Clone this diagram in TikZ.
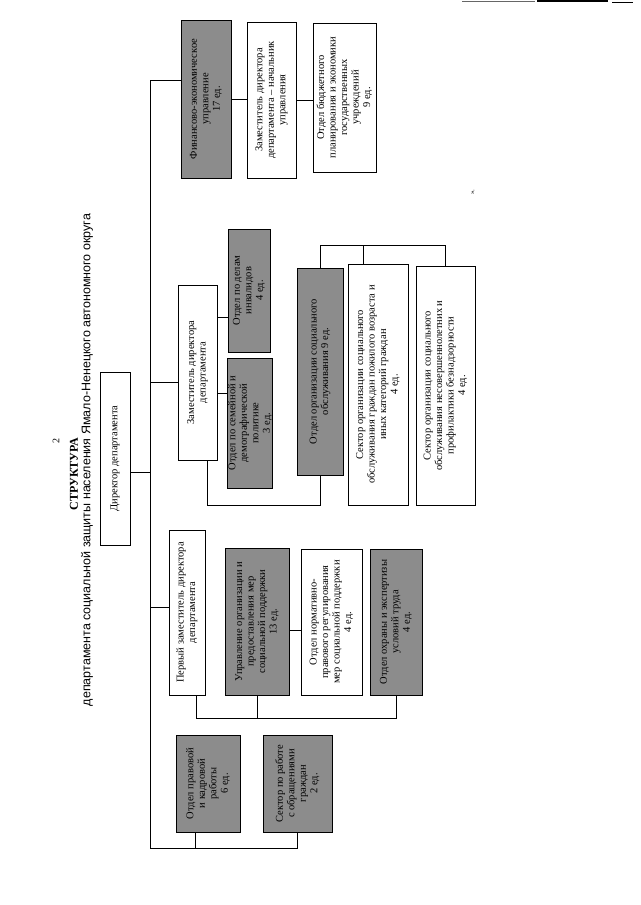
\documentclass[tikz,border=0pt]{standalone}
\usepackage{fontspec}
\setmainfont{Liberation Serif}
\setsansfont{Liberation Sans}
\usepackage{xcolor}

\begin{document}
\begin{tikzpicture}[x=1pt,y=-1pt,
  box/.style={draw, line width=0.8pt, rotate=90, align=center, inner sep=1pt,
    font=\fontsize{10.5}{11.5}\selectfont},
  shaded/.style={box, fill=black!45},
  sz/.style 2 args={minimum height=#1, minimum width=#2},
  link/.style={line width=0.8pt}]
  \useasboundingbox (0,0) rectangle (640,905);
  % Draw title
  \node[rotate=90, font=\fontsize{10}{12}\selectfont] (pagenum) at (56,441) {2};
  \node[rotate=90, font=\fontsize{12}{14}\selectfont\bfseries] (title) at (74,474) {СТРУКТУРА};
  \node[rotate=90, font=\fontsize{12.5}{14}\sffamily] (subtitle) at (87,460)
    {департамента социальной защиты населения Ямало-Ненецкого автономного округа};
  \node[rotate=90, font=\fontsize{7}{8}\selectfont] (mark) at (473,192) {».};
  % Draw boxes
  \node[box, sz={30pt}{173pt}] (dir) at (115,458.5) {Директор департамента};
  \node[shaded, sz={50pt}{158pt}] (fin) at (206,99) {Финансово-экономическое\\управление\\17 ед.};
  \node[box, sz={49pt}{156pt}] (fzam) at (271.5,100) {Заместитель директора\\департамента -- начальник\\управления};
  \node[box, sz={63pt}{149pt}] (budget) at (344.5,97.5) {Отдел бюджетного\\планирования и экономики\\государственных\\учреждений\\9 ед.};
  \node[box, sz={39pt}{175pt}] (zam) at (197.5,372.5) {Заместитель директора\\департамента};
  \node[shaded, sz={42pt}{123pt}] (invalid) at (249,290.5) {Отдел по делам\\инвалидов\\4 ед.};
  \node[shaded, sz={44pt}{130pt}] (family) at (250,423) {Отдел по семейной и\\демографической\\политике\\3 ед.};
  \node[shaded, sz={46pt}{207pt}] (socorg) at (320,371.5) {Отдел организации социального\\обслуживания 9 ед.};
  \node[box, sz={60pt}{241pt}] (elderly) at (378,384.5) {Сектор организации социального\\обслуживания граждан пожилого возраста и\\иных категорий граждан\\4 ед.};
  \node[box, sz={59pt}{239pt}] (minors) at (445.5,385.5) {Сектор организации социального\\обслуживания несовершеннолетних и\\профилактики безнадзорности\\4 ед.};
  \node[box, sz={36pt}{165pt}] (first) at (187,612.5) {Первый заместитель директора\\департамента};
  \node[shaded, sz={64pt}{147pt}] (upr) at (257,621.5) {Управление организации и\\предоставления мер\\социальной поддержки\\13 ед.};
  \node[box, sz={61pt}{146pt}] (norm) at (331.5,622) {Отдел нормативно-\\правового регулирования\\мер социальной поддержки\\4 ед.};
  \node[shaded, sz={52pt}{146pt}] (ohrana) at (396,622) {Отдел охраны и экспертизы\\условий труда\\4 ед.};
  \node[shaded, sz={64pt}{97pt}] (pravo) at (208,783.5) {Отдел правовой\\и кадровой\\работы\\6 ед.};
  \node[shaded, sz={69pt}{97pt}] (obr) at (297.5,783.5) {Сектор по работе\\с обращениями\\граждан\\2 ед.};
  % Draw junction points
  \coordinate (ttop) at (150,80);
  \coordinate (tbot) at (150,848);
  \coordinate (j1) at (150,472);
  \coordinate (j2) at (150,382);
  \coordinate (j3) at (150,607);
  \coordinate (d1) at (195,848);
  \coordinate (r1) at (0,317);
  \coordinate (r2) at (0,393);
  \coordinate (r3) at (207,505);
  \coordinate (r4) at (0,245);
  \coordinate (d2) at (363,245);
  \coordinate (r5) at (0,718);
  \coordinate (d3) at (196,718);
  \coordinate (r6) at (0,630);
  % Draw connectors
  \draw[link] (fin.north |- ttop) -- (ttop) -- (tbot) -- (obr.west |- tbot) -- (obr.west);
  \draw[link] (d1) -- (d1 |- pravo.west);
  \draw[link] (dir.south |- j1) -- (j1);
  \draw[link] (j2) -- (j2 -| zam.north);
  \draw[link] (j3) -- (j3 -| first.north);
  \draw[link] (fin.south) -- (fin.south -| fzam.north);
  \draw[link] (fzam.south) -- (fzam.south -| budget.north);
  \draw[link] (zam.south |- r1) -- (invalid.north |- r1);
  \draw[link] (zam.south |- r2) -- (family.north |- r2);
  \draw[link] (r3 |- zam.west) -- (r3) -- (r3 -| socorg.west) -- (socorg.west);
  \draw[link] (socorg.east) -- (socorg.east |- r4) -- (minors.east |- r4) -- (minors.east);
  \draw[link] (d2) -- (d2 |- elderly.east);
  \draw[link] (d3 |- first.west) -- (d3) -- (ohrana.west |- r5) -- (ohrana.west);
  \draw[link] (upr.west) -- (upr.west |- r5);
  \draw[link] (upr.south |- r6) -- (norm.north |- r6);
  % Draw page edge
  \draw[line width=0.5pt, black!60] (462,1) -- (535,1);
  \draw[line width=1.2pt] (537,1) -- (608,1);
  \draw[line width=1pt] (612,2) -- (633,2);
\end{tikzpicture}
\end{document}
